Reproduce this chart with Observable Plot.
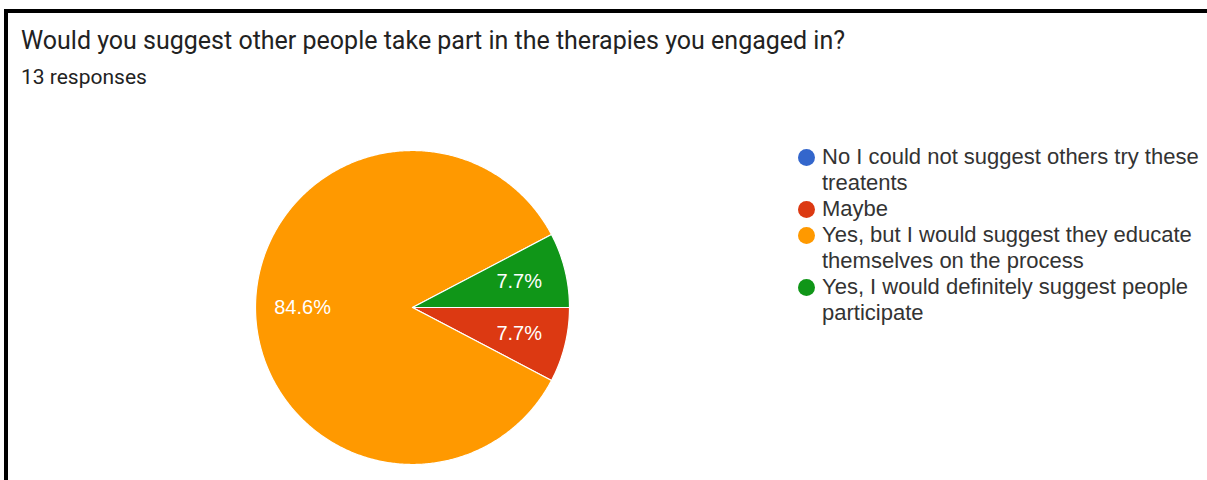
<!DOCTYPE html>
<html>
<head>
<meta charset="utf-8">
<script src="https://cdn.jsdelivr.net/npm/d3@7"></script>
<script src="https://cdn.jsdelivr.net/npm/@observablehq/plot@0.6"></script>
<style>
html, body { margin: 0; padding: 0; background: #fff; }
#frame { position: relative; width: 1207px; height: 480px; overflow: hidden; background: #fff; }
#border { position: absolute; left: 4px; top: 9px; width: 1230px; height: 520px; border-top: 4px solid #000; border-left: 4px solid #000; box-sizing: border-box; }
#title { position: absolute; left: 21px; top: 28px; font: 25px/25px Roboto, "Noto Sans", sans-serif; color: #222; white-space: nowrap; }
#subtitle { position: absolute; left: 21px; top: 67px; font: 21px/21px Roboto, "Noto Sans", sans-serif; color: #222; white-space: nowrap; }
#chart { position: absolute; left: 254px; top: 149px; }
#legend { position: absolute; left: 822px; top: 144px; font: 22px/26px "Liberation Sans", Arial, sans-serif; color: #333; }
.item { position: relative; margin: 0; white-space: nowrap; }
.bullet { position: absolute; left: -24px; top: 5px; width: 17px; height: 17px; border-radius: 50%; }
</style>
</head>
<body>
<div id="frame">
  <div id="border"></div>
  <div id="title"></div>
  <div id="subtitle"></div>
  <div id="chart"></div>
  <div id="legend"></div>
</div>
<script>
// ---- data ----
const titleText = "Would you suggest other people take part in the therapies you engaged in?";
const subtitleText = "13 responses";
const categories = [
  "No I could not suggest others try these treatents",
  "Maybe",
  "Yes, but I would suggest they educate themselves on the process",
  "Yes, I would definitely suggest people participate"
];
const legendLines = [
  ["No I could not suggest others try these", "treatents"],
  ["Maybe"],
  ["Yes, but I would suggest they educate", "themselves on the process"],
  ["Yes, I would definitely suggest people", "participate"]
];
const counts = [0, 1, 11, 1];
const colors = ["#3366CC", "#DC3912", "#FF9900", "#109618"];

// ---- text ----
document.getElementById("title").textContent = titleText;
document.getElementById("subtitle").textContent = subtitleText;

// ---- legend ----
const legend = document.getElementById("legend");
categories.forEach((c, i) => {
  const item = document.createElement("div");
  item.className = "item";
  const b = document.createElement("span");
  b.className = "bullet";
  b.style.background = colors[i];
  item.appendChild(b);
  legendLines[i].forEach(line => {
    const l = document.createElement("div");
    l.textContent = line;
    item.appendChild(l);
  });
  legend.appendChild(item);
});

// ---- pie geometry from data ----
const total = d3.sum(counts);
const rows = categories.map((c, i) => ({category: c, count: counts[i], color: colors[i]}));
const arcs = d3.pie().sort(null).value(d => d.count)
  .startAngle(Math.PI / 2).endAngle(Math.PI / 2 + 2 * Math.PI)(rows)
  .filter(a => a.value > 0);

const pt = (a, r) => [r * Math.sin(a), r * Math.cos(a)];
const slices = {
  type: "FeatureCollection",
  features: arcs.map(a => {
    const n = Math.max(2, Math.ceil((a.endAngle - a.startAngle) / (Math.PI / 360)));
    const ring = [[0, 0]];
    for (let k = 0; k <= n; k++) ring.push(pt(a.startAngle + (a.endAngle - a.startAngle) * k / n, 1));
    ring.push([0, 0]);
    return {type: "Feature", properties: {category: a.data.category, color: a.data.color}, geometry: {type: "Polygon", coordinates: [ring]}};
  })
};
const labels = arcs.map(a => {
  const mid = (a.startAngle + a.endAngle) / 2;
  const [x, y] = pt(mid, 0.7);
  return {x, y, text: (100 * a.value / total).toFixed(1) + "%"};
});
const outline = {type: "MultiPoint", coordinates: [[-1, -1], [1, 1]]};

const chart = Plot.plot({
  width: 316,
  height: 316,
  margin: 0,
  style: {background: "transparent", fontFamily: "'Liberation Sans', Arial, sans-serif"},
  projection: {type: "reflect-y", domain: outline, inset: 1},
  marks: [
    Plot.geo(slices, {fill: d => d.properties.color, stroke: "#ffffff", strokeWidth: 1.2}),
    Plot.text(labels, {x: "x", y: "y", text: "text", fill: "#ffffff", fontSize: 20})
  ]
});
document.getElementById("chart").appendChild(chart);
</script>
</body>
</html>
